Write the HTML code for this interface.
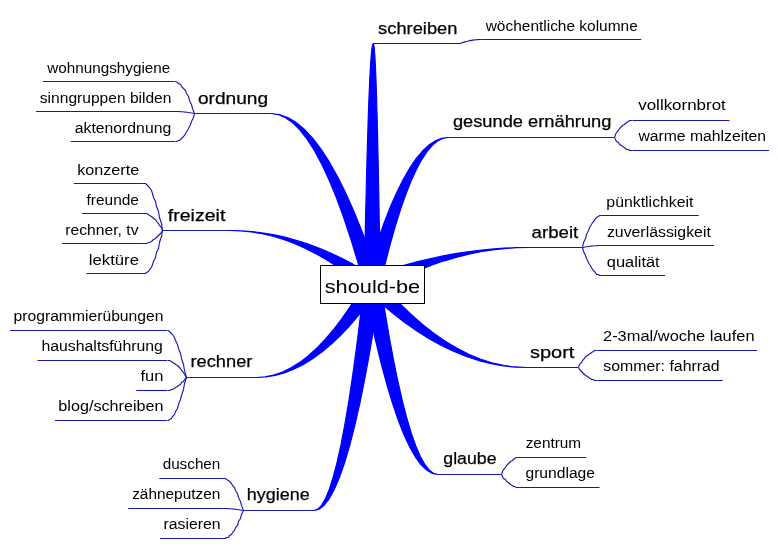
<!DOCTYPE html>
<html><head><meta charset="utf-8"><title>should-be</title>
<style>
html,body{margin:0;padding:0;background:#ffffff;}
body{width:778px;height:548px;overflow:hidden;font-family:"Liberation Sans",sans-serif;}
svg{display:block;}
.hd{stroke:#000000;stroke-width:0.25px;}
</style></head><body>
<svg width="778" height="548" viewBox="0 0 778 548">
<defs><filter id="gs" x="0" y="0" width="778" height="548" filterUnits="userSpaceOnUse"><feOffset dx="0" dy="0"/></filter></defs>
<rect width="778" height="548" fill="#ffffff"/>
<g fill="#0000ff" stroke="#0000ff" stroke-width="1.2" stroke-linejoin="round">
<polygon points="373.25,43.50 373.79,44.93 374.33,49.20 374.87,56.33 375.40,66.32 375.94,79.15 376.48,94.84 377.02,113.38 377.56,134.77 378.10,159.01 378.63,186.10 379.17,216.05 379.71,248.85 380.25,284.50 364.25,284.50 364.94,248.85 365.63,216.05 366.33,186.10 367.02,159.01 367.71,134.77 368.40,113.38 369.10,94.84 369.79,79.15 370.48,66.32 371.17,56.33 371.87,49.20 372.56,44.93 373.25,43.50"/>
<polygon points="448.00,137.50 442.71,138.39 437.42,141.07 432.13,145.54 426.85,151.80 421.56,159.84 416.27,169.67 410.98,181.28 405.69,194.68 400.40,209.87 395.12,226.85 389.83,245.61 384.54,266.16 379.25,288.50 365.25,280.50 371.62,259.35 377.98,239.88 384.35,222.12 390.71,206.04 397.08,191.65 403.44,178.96 409.81,167.96 416.17,158.65 422.54,151.04 428.90,145.12 435.27,140.88 441.63,138.35 448.00,137.50"/>
<polygon points="528.00,247.50 516.17,247.77 504.35,248.57 492.52,249.90 480.69,251.76 468.87,254.16 457.04,257.09 445.21,260.55 433.38,264.54 421.56,269.07 409.73,274.13 397.90,279.72 386.08,285.84 374.25,292.50 370.25,276.50 382.38,272.21 394.52,268.26 406.65,264.66 418.79,261.40 430.92,258.48 443.06,255.91 455.19,253.68 467.33,251.79 479.46,250.25 491.60,249.04 503.73,248.19 515.87,247.67 528.00,247.50"/>
<polygon points="526.50,367.50 514.33,367.05 502.15,365.70 489.98,363.45 477.81,360.30 465.63,356.26 453.46,351.31 441.29,345.46 429.12,338.72 416.94,331.07 404.77,322.53 392.60,313.09 380.42,302.74 368.25,291.50 376.25,277.50 387.81,290.81 399.37,303.06 410.92,314.25 422.48,324.36 434.04,333.42 445.60,341.41 457.15,348.33 468.71,354.19 480.27,358.98 491.83,362.71 503.38,365.37 514.94,366.97 526.50,367.50"/>
<polygon points="438.00,474.50 432.33,473.39 426.65,470.07 420.98,464.54 415.31,456.80 409.63,446.84 403.96,434.67 398.29,420.28 392.62,403.68 386.94,384.87 381.27,363.85 375.60,340.61 369.92,315.16 364.25,287.50 380.25,281.50 384.69,310.05 389.13,336.32 393.58,360.30 398.02,382.00 402.46,401.41 406.90,418.54 411.35,433.39 415.79,445.95 420.23,456.23 424.67,464.22 429.12,469.93 433.56,473.36 438.00,474.50"/>
<polygon points="271.00,113.50 278.25,114.54 285.50,117.64 292.75,122.82 300.00,130.07 307.25,139.39 314.50,150.78 321.75,164.24 329.00,179.77 336.25,197.38 343.50,217.05 350.75,238.80 358.00,262.61 365.25,288.50 379.25,280.50 370.92,255.80 362.60,233.07 354.27,212.32 345.94,193.54 337.62,176.74 329.29,161.92 320.96,149.07 312.63,138.20 304.31,129.31 295.98,122.39 287.65,117.45 279.33,114.49 271.00,113.50"/>
<polygon points="230.00,230.50 240.71,230.86 251.42,231.94 262.13,233.75 272.85,236.28 283.56,239.52 294.27,243.49 304.98,248.19 315.69,253.60 326.40,259.74 337.12,266.59 347.83,274.17 358.54,282.48 369.25,291.50 375.25,277.50 364.08,270.55 352.90,264.15 341.73,258.31 330.56,253.03 319.38,248.30 308.21,244.13 297.04,240.51 285.87,237.45 274.69,234.95 263.52,233.00 252.35,231.61 241.17,230.78 230.00,230.50"/>
<polygon points="256.50,377.50 265.79,376.99 275.08,375.44 284.37,372.87 293.65,369.26 302.94,364.63 312.23,358.97 321.52,352.28 330.81,344.55 340.10,335.80 349.38,326.02 358.67,315.21 367.96,303.37 377.25,290.50 367.25,278.50 358.73,293.14 350.21,306.62 341.69,318.92 333.17,330.05 324.65,340.01 316.13,348.80 307.62,356.41 299.10,362.86 290.58,368.13 282.06,372.23 273.54,375.16 265.02,376.91 256.50,377.50"/>
<polygon points="314.00,510.50 319.10,509.17 324.19,505.20 329.29,498.57 334.38,489.29 339.48,477.36 344.58,462.78 349.67,445.55 354.77,425.67 359.87,403.14 364.96,377.96 370.06,350.12 375.15,319.64 380.25,286.50 364.25,282.50 360.38,316.23 356.52,347.26 352.65,375.59 348.79,401.22 344.92,424.16 341.06,444.39 337.19,461.93 333.33,476.77 329.46,488.91 325.60,498.36 321.73,505.10 317.87,509.15 314.00,510.50"/>
</g>
<g fill="none" stroke="#1616b0" stroke-width="1.1">
<path d="M373.25 43.50H460.00"/>
<polyline points="481.25,39.50 479.62,39.52 477.98,39.59 476.35,39.71 474.71,39.88 473.08,40.09 471.44,40.35 469.81,40.66 468.17,41.01 466.54,41.42 464.90,41.87 463.27,42.36 461.63,42.91 460.00,43.50"/>
<path d="M481.25 39.50H641.25"/>
<path d="M448.00 137.50H614.00"/>
<polyline points="632.50,120.50 631.50,120.50 629.50,120.50 628.50,121.50 626.50,122.50 625.50,123.50 624.50,124.50 622.50,125.50 621.50,126.50 619.50,128.50 618.50,130.50 616.50,132.50 615.50,134.50 614.50,137.50"/>
<path d="M632.75 120.50H729.50"/>
<polyline points="632.50,150.50 631.50,150.50 629.50,150.50 628.50,149.50 626.50,149.50 625.50,148.50 624.50,147.50 622.50,146.50 621.50,145.50 619.50,144.50 618.50,142.50 616.50,141.50 615.50,139.50 614.50,137.50"/>
<path d="M632.75 150.50H769.00"/>
<path d="M528.00 247.50H582.50"/>
<polyline points="601.50,215.50 599.50,215.50 598.50,216.50 596.50,217.50 595.50,218.50 594.50,220.50 592.50,222.50 591.50,224.50 589.50,227.50 588.50,230.50 586.50,234.50 585.50,238.50 583.50,242.50 582.50,247.50"/>
<path d="M601.25 215.50H698.75"/>
<polyline points="601.25,245.50 599.81,245.51 598.37,245.55 596.92,245.61 595.48,245.69 594.04,245.80 592.60,245.93 591.15,246.08 589.71,246.26 588.27,246.46 586.83,246.68 585.38,246.93 583.94,247.20 582.50,247.50"/>
<path d="M601.25 245.50H714.00"/>
<polyline points="601.50,275.50 599.50,275.50 598.50,274.50 596.50,274.50 595.50,272.50 594.50,271.50 592.50,269.50 591.50,267.50 589.50,264.50 588.50,262.50 586.50,258.50 585.50,255.50 583.50,251.50 582.50,247.50"/>
<path d="M601.25 275.50H665.00"/>
<path d="M526.50 367.50H578.00"/>
<polyline points="597.50,350.50 596.50,350.50 594.50,350.50 593.50,351.50 591.50,352.50 590.50,353.50 588.50,354.50 587.50,355.50 585.50,356.50 584.50,358.50 582.50,360.50 581.50,362.50 579.50,364.50 578.50,367.50"/>
<path d="M597.50 350.50H757.00"/>
<polyline points="597.50,380.50 596.50,380.50 594.50,380.50 593.50,379.50 591.50,379.50 590.50,378.50 588.50,377.50 587.50,376.50 585.50,375.50 584.50,374.50 582.50,372.50 581.50,371.50 579.50,369.50 578.50,367.50"/>
<path d="M597.50 380.50H722.75"/>
<path d="M438.00 474.50H501.25"/>
<polyline points="519.50,457.50 517.50,457.50 516.50,457.50 514.50,458.50 513.50,459.50 512.50,460.50 510.50,461.50 509.50,462.50 508.50,463.50 506.50,465.50 505.50,467.50 503.50,469.50 502.50,471.50 501.50,474.50"/>
<path d="M519.00 457.50H586.25"/>
<polyline points="519.50,487.50 517.50,487.50 516.50,487.50 514.50,486.50 513.50,486.50 512.50,485.50 510.50,484.50 509.50,483.50 508.50,482.50 506.50,481.50 505.50,479.50 503.50,478.50 502.50,476.50 501.50,474.50"/>
<path d="M519.00 487.50H599.50"/>
<path d="M271.00 113.50H194.50"/>
<polyline points="174.50,81.50 175.50,81.50 177.50,82.50 178.50,83.50 180.50,84.50 181.50,86.50 183.50,88.50 185.50,90.50 186.50,93.50 188.50,96.50 189.50,100.50 191.50,104.50 192.50,108.50 194.50,113.50"/>
<path d="M174.00 81.50H43.00"/>
<polyline points="175.00,111.50 176.50,111.51 178.00,111.55 179.50,111.61 181.00,111.69 182.50,111.80 184.00,111.93 185.50,112.08 187.00,112.26 188.50,112.46 190.00,112.68 191.50,112.93 193.00,113.20 194.50,113.50"/>
<path d="M175.00 111.50H36.00"/>
<polyline points="175.50,141.50 176.50,141.50 178.50,140.50 179.50,140.50 181.50,138.50 182.50,137.50 184.50,135.50 185.50,133.50 187.50,130.50 188.50,128.50 190.50,124.50 191.50,121.50 193.50,117.50 194.50,113.50"/>
<path d="M175.00 141.50H70.75"/>
<path d="M230.00 230.50H162.75"/>
<polyline points="143.50,183.50 145.50,183.50 146.50,184.50 148.50,186.50 149.50,187.50 151.50,190.50 152.50,193.50 153.50,197.50 155.50,201.50 156.50,206.50 158.50,211.50 159.50,217.50 161.50,223.50 162.50,230.50"/>
<path d="M143.75 183.50H73.75"/>
<polyline points="143.50,213.50 145.50,213.50 146.50,213.50 148.50,214.50 149.50,215.50 151.50,216.50 152.50,217.50 153.50,218.50 155.50,219.50 156.50,221.50 158.50,223.50 159.50,225.50 161.50,227.50 162.50,230.50"/>
<path d="M143.75 213.50H82.00"/>
<polyline points="143.50,243.50 145.50,243.50 146.50,243.50 148.50,242.50 149.50,242.50 151.50,241.50 152.50,240.50 153.50,239.50 155.50,238.50 156.50,237.50 158.50,235.50 159.50,234.50 161.50,232.50 162.50,230.50"/>
<path d="M143.75 243.50H62.00"/>
<polyline points="143.50,273.50 145.50,273.50 146.50,272.50 148.50,271.50 149.50,269.50 151.50,267.50 152.50,264.50 153.50,261.50 155.50,257.50 156.50,252.50 158.50,248.50 159.50,242.50 161.50,236.50 162.50,230.50"/>
<path d="M143.75 273.50H86.25"/>
<path d="M256.50 377.50H186.25"/>
<polyline points="167.50,330.50 168.50,330.50 169.50,331.50 171.50,333.50 172.50,334.50 174.50,337.50 175.50,340.50 177.50,344.50 178.50,348.50 180.50,353.50 181.50,358.50 183.50,364.50 184.50,370.50 186.50,377.50"/>
<path d="M167.00 330.50H10.00"/>
<polyline points="167.50,360.50 168.50,360.50 169.50,360.50 171.50,361.50 172.50,362.50 174.50,363.50 175.50,364.50 177.50,365.50 178.50,366.50 180.50,368.50 181.50,370.50 183.50,372.50 184.50,374.50 186.50,377.50"/>
<path d="M167.00 360.50H37.50"/>
<polyline points="167.50,390.50 168.50,390.50 169.50,390.50 171.50,389.50 172.50,389.50 174.50,388.50 175.50,387.50 177.50,386.50 178.50,385.50 180.50,384.50 181.50,382.50 183.50,381.50 184.50,379.50 186.50,377.50"/>
<path d="M167.00 390.50H136.25"/>
<polyline points="167.50,420.50 168.50,420.50 169.50,419.50 171.50,418.50 172.50,416.50 174.50,414.50 175.50,411.50 177.50,408.50 178.50,404.50 180.50,399.50 181.50,395.50 183.50,389.50 184.50,383.50 186.50,377.50"/>
<path d="M167.00 420.50H55.00"/>
<path d="M314.00 510.50H243.00"/>
<polyline points="223.50,478.50 225.50,478.50 226.50,479.50 228.50,480.50 229.50,481.50 231.50,483.50 232.50,485.50 234.50,487.50 235.50,490.50 237.50,493.50 238.50,497.50 240.50,501.50 241.50,505.50 243.50,510.50"/>
<path d="M223.75 478.50H159.25"/>
<polyline points="223.75,508.50 225.23,508.51 226.71,508.55 228.19,508.61 229.67,508.69 231.15,508.80 232.63,508.93 234.12,509.08 235.60,509.26 237.08,509.46 238.56,509.68 240.04,509.93 241.52,510.20 243.00,510.50"/>
<path d="M223.75 508.50H128.25"/>
<polyline points="223.50,538.50 225.50,538.50 226.50,537.50 228.50,537.50 229.50,535.50 231.50,534.50 232.50,532.50 234.50,530.50 235.50,527.50 237.50,525.50 238.50,521.50 240.50,518.50 241.50,514.50 243.50,510.50"/>
<path d="M223.75 538.50H160.00"/>
</g>
<rect x="320.5" y="265.5" width="104" height="38" fill="#ffffff" stroke="#000000" stroke-width="1"/>
<g font-family="'Liberation Sans', sans-serif" fill="#000000" filter="url(#gs)">
<text class="hd" x="378.13" y="33.90" font-size="16.70" textLength="79.28" lengthAdjust="spacingAndGlyphs">schreiben</text>
<text class="lf" x="485.71" y="30.65" font-size="13.85" textLength="152.09" lengthAdjust="spacingAndGlyphs">wöchentliche kolumne</text>
<text class="hd" x="452.91" y="126.90" font-size="16.70" textLength="158.51" lengthAdjust="spacingAndGlyphs">gesunde ernährung</text>
<text class="lf" x="638.23" y="110.40" font-size="13.85" textLength="87.59" lengthAdjust="spacingAndGlyphs">vollkornbrot</text>
<text class="lf" x="638.42" y="140.65" font-size="13.85" textLength="127.68" lengthAdjust="spacingAndGlyphs">warme mahlzeiten</text>
<text class="hd" x="531.58" y="237.65" font-size="16.70" textLength="46.70" lengthAdjust="spacingAndGlyphs">arbeit</text>
<text class="lf" x="606.39" y="206.90" font-size="13.85" textLength="87.11" lengthAdjust="spacingAndGlyphs">pünktlichkeit</text>
<text class="lf" x="606.91" y="236.90" font-size="13.85" textLength="103.92" lengthAdjust="spacingAndGlyphs">zuverlässigkeit</text>
<text class="lf" x="606.79" y="266.65" font-size="13.85" textLength="52.88" lengthAdjust="spacingAndGlyphs">qualität</text>
<text class="hd" x="530.04" y="357.90" font-size="16.70" textLength="44.40" lengthAdjust="spacingAndGlyphs">sport</text>
<text class="lf" x="603.01" y="341.40" font-size="13.85" textLength="151.57" lengthAdjust="spacingAndGlyphs">2-3mal/woche laufen</text>
<text class="lf" x="603.38" y="371.40" font-size="13.85" textLength="116.30" lengthAdjust="spacingAndGlyphs">sommer: fahrrad</text>
<text class="hd" x="443.28" y="464.40" font-size="16.70" textLength="53.28" lengthAdjust="spacingAndGlyphs">glaube</text>
<text class="lf" x="525.69" y="448.15" font-size="13.85" textLength="55.46" lengthAdjust="spacingAndGlyphs">zentrum</text>
<text class="lf" x="525.49" y="478.15" font-size="13.85" textLength="69.48" lengthAdjust="spacingAndGlyphs">grundlage</text>
<text class="hd" x="197.92" y="103.90" font-size="16.70" textLength="70.15" lengthAdjust="spacingAndGlyphs">ordnung</text>
<text class="lf" x="47.36" y="72.90" font-size="13.85" textLength="122.92" lengthAdjust="spacingAndGlyphs">wohnungshygiene</text>
<text class="lf" x="39.84" y="102.90" font-size="13.85" textLength="131.62" lengthAdjust="spacingAndGlyphs">sinngruppen bilden</text>
<text class="lf" x="74.79" y="132.65" font-size="13.85" textLength="96.40" lengthAdjust="spacingAndGlyphs">aktenordnung</text>
<text class="hd" x="167.78" y="220.90" font-size="16.70" textLength="57.57" lengthAdjust="spacingAndGlyphs">freizeit</text>
<text class="lf" x="77.22" y="175.15" font-size="13.85" textLength="62.03" lengthAdjust="spacingAndGlyphs">konzerte</text>
<text class="lf" x="86.54" y="205.15" font-size="13.85" textLength="52.43" lengthAdjust="spacingAndGlyphs">freunde</text>
<text class="lf" x="65.21" y="235.15" font-size="13.85" textLength="73.28" lengthAdjust="spacingAndGlyphs">rechner, tv</text>
<text class="lf" x="88.78" y="265.15" font-size="13.85" textLength="50.26" lengthAdjust="spacingAndGlyphs">lektüre</text>
<text class="hd" x="190.44" y="366.65" font-size="16.70" textLength="61.97" lengthAdjust="spacingAndGlyphs">rechner</text>
<text class="lf" x="13.53" y="320.65" font-size="13.85" textLength="149.98" lengthAdjust="spacingAndGlyphs">programmierübungen</text>
<text class="lf" x="41.44" y="350.65" font-size="13.85" textLength="121.46" lengthAdjust="spacingAndGlyphs">haushaltsführung</text>
<text class="lf" x="140.52" y="380.65" font-size="13.85" textLength="23.02" lengthAdjust="spacingAndGlyphs">fun</text>
<text class="lf" x="58.38" y="410.65" font-size="13.85" textLength="105.20" lengthAdjust="spacingAndGlyphs">blog/schreiben</text>
<text class="hd" x="246.83" y="499.90" font-size="16.70" textLength="62.79" lengthAdjust="spacingAndGlyphs">hygiene</text>
<text class="lf" x="162.67" y="469.15" font-size="13.85" textLength="57.68" lengthAdjust="spacingAndGlyphs">duschen</text>
<text class="lf" x="132.15" y="499.15" font-size="13.85" textLength="88.19" lengthAdjust="spacingAndGlyphs">zähneputzen</text>
<text class="lf" x="163.46" y="528.90" font-size="13.85" textLength="57.06" lengthAdjust="spacingAndGlyphs">rasieren</text>
<text x="324.75" y="292.65" font-size="18.90" textLength="95.47" lengthAdjust="spacingAndGlyphs">should-be</text>
</g>
</svg>
</body></html>
